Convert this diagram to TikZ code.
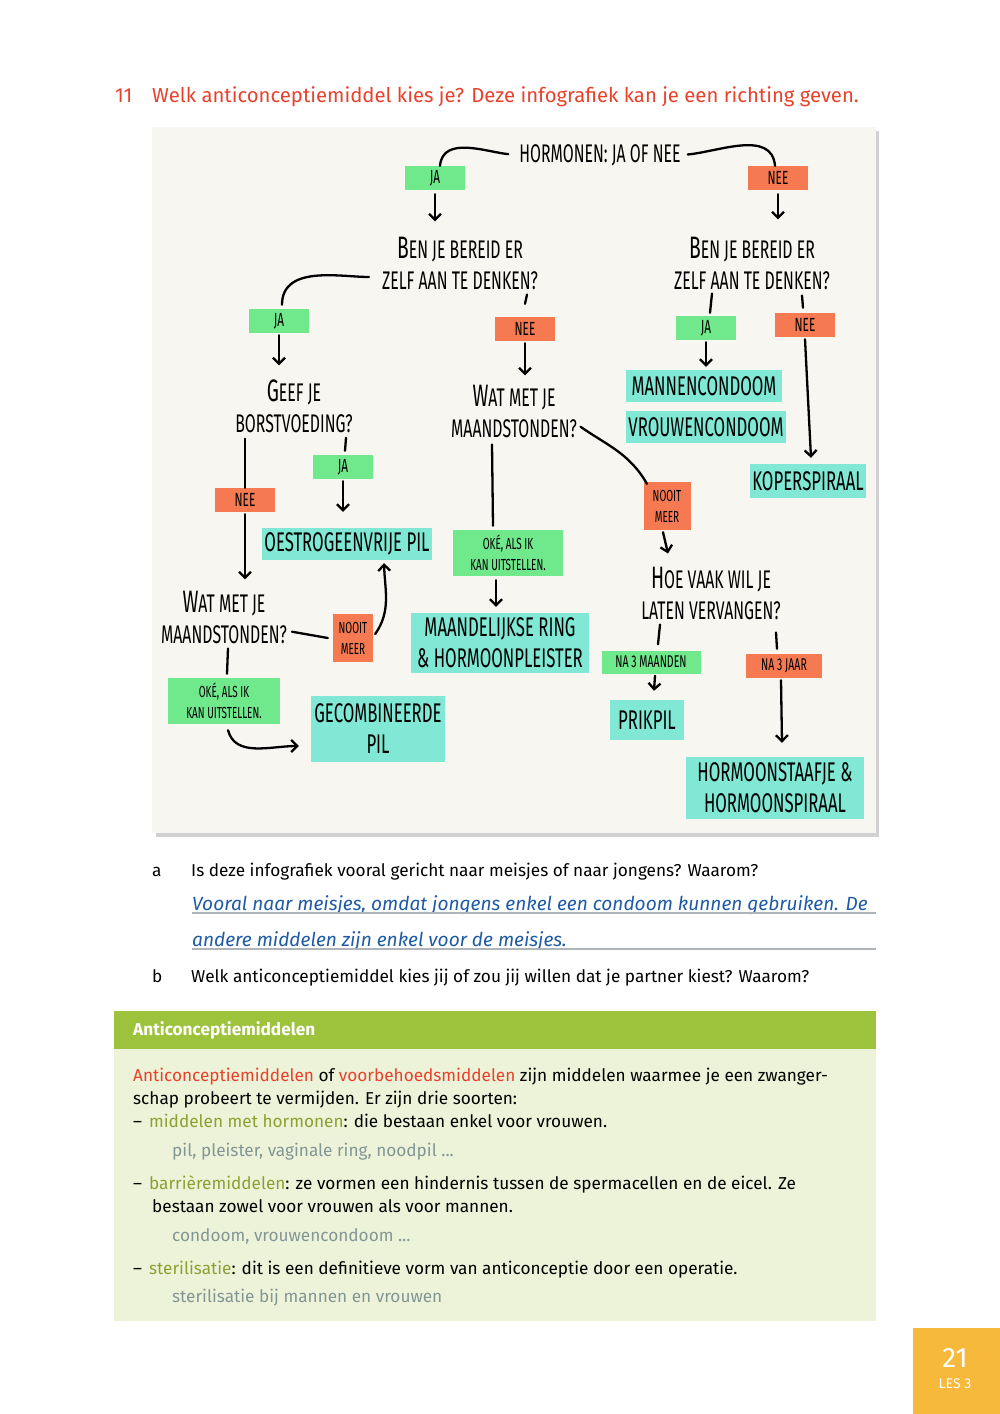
\documentclass[tikz,border=0pt]{standalone}
\usepackage{fontspec}
\setmainfont{Fira Sans}
\newfontfamily\handfont[FakeStretch=0.62]{Fira Sans}
\usetikzlibrary{arrows.meta, positioning}

\definecolor{titlered}{RGB}{232,65,44}
\definecolor{paper}{RGB}{248,246,240}
\definecolor{brushteal}{RGB}{128,232,212}
\definecolor{brushgreen}{RGB}{112,232,140}
\definecolor{brushorange}{RGB}{245,122,82}
\definecolor{answerblue}{RGB}{30,90,165}
\definecolor{rulegrey}{RGB}{175,180,185}
\definecolor{boxgreen}{RGB}{157,194,59}
\definecolor{boxpale}{RGB}{237,243,216}
\definecolor{termolive}{RGB}{140,160,50}
\definecolor{examplegrey}{RGB}{130,150,150}
\definecolor{pagegold}{RGB}{246,185,59}

\newcommand\initcap[1]{{\fontsize{31}{31}\selectfont #1}}

\begin{document}
\begin{tikzpicture}[x=1pt, y=-1pt,
    question/.style={font=\handfont\fontsize{25.5}{31}\selectfont, align=center, inner sep=1pt},
    answer/.style={fill=brushteal, font=\handfont\fontsize{27}{31}\selectfont, align=center, inner sep=2pt},
    yestag/.style={fill=brushgreen, font=\handfont\fontsize{19}{22}\selectfont, align=center, minimum width=60pt, minimum height=24pt, inner sep=1pt},
    notag/.style={fill=brushorange, font=\handfont\fontsize{19}{22}\selectfont, align=center, minimum width=60pt, minimum height=24pt, inner sep=1pt},
    link/.style={line width=2.3pt, line cap=round},
    pointer/.style={link, -{Straight Barb[length=6pt,width=12pt]}},
    body/.style={anchor=base west, inner sep=0pt, font=\fontsize{17.2}{20}\selectfont}]

\useasboundingbox (0,0) rectangle (1000,1414);

% title
\node[body, font=\fontsize{20.3}{24}\selectfont, text=titlered] (num) at (115,102) {11};
\node[body, font=\fontsize{20.3}{24}\selectfont, text=titlered] (title) at (152,102)
    {Welk anticonceptiemiddel kies je? Deze infografiek kan je een richting geven.};

% panel
\fill[black!18] (156,131) rectangle (879,837);
\fill[paper] (152,127) rectangle (876,833);

% flowchart nodes
\node[question] (hq) at (600,155) {HORMONEN: JA OF NEE};
\node[yestag] (ja1) at (435,178) {JA};
\node[notag] (nee1) at (778,178) {NEE};

\node[question] (qL) at (460,263) {\initcap{B}EN JE BEREID ER\\ZELF AAN TE DENKEN?};
\node[question] (qR) at (752,263) {\initcap{B}EN JE BEREID ER\\ZELF AAN TE DENKEN?};

\node[yestag] (jaL) at (279,321) {JA};
\node[notag] (neeL) at (525,329) {NEE};
\node[yestag] (jaR) at (706,328) {JA};
\node[notag] (neeR) at (805,325) {NEE};

\node[question] (qBorst) at (294,406) {\initcap{G}EEF JE\\BORSTVOEDING?};
\node[question] (qMaandM) at (514,411) {\initcap{W}AT MET JE\\MAANDSTONDEN?};

\node[answer, minimum width=156pt, minimum height=32pt] (mannen) at (704,386) {MANNENCONDOOM};
\node[answer, minimum width=158pt, minimum height=32pt] (vrouwen) at (706,427) {VROUWENCONDOOM};
\node[answer, minimum width=114pt, minimum height=34pt] (koper) at (808,481) {KOPERSPIRAAL};

\node[notag] (neeB) at (245,500) {NEE};
\node[yestag] (jaB) at (343,467) {JA};
\node[answer, minimum width=160pt, minimum height=32pt] (oestro) at (347,544) {OESTROGEENVRIJE PIL};

\node[yestag, font=\handfont\fontsize{16}{21}\selectfont, minimum width=110pt, minimum height=46pt] (okeM) at (508,553) {OKÉ, ALS IK\\KAN UITSTELLEN.};
\node[answer, minimum width=178pt, minimum height=60pt] (ring) at (500,643) {MAANDELIJKSE RING\\\& HORMOONPLEISTER};

\node[notag, font=\handfont\fontsize{16}{21}\selectfont, minimum width=47pt, minimum height=48pt] (nooitM) at (667,506) {NOOIT\\MEER};
\node[question] (qVaak) at (711,593) {\initcap{H}OE VAAK WIL JE\\LATEN VERVANGEN?};

\node[yestag, font=\handfont\fontsize{17}{21}\selectfont, minimum width=99pt, minimum height=23pt] (na3m) at (651,662) {NA 3 MAANDEN};
\node[notag, font=\handfont\fontsize{17}{21}\selectfont, minimum width=76pt, minimum height=24pt] (na3j) at (784,666) {NA 3 JAAR};
\node[answer, minimum width=74pt, minimum height=40pt] (prik) at (647,720) {PRIKPIL};
\node[answer, minimum width=178pt, minimum height=62pt] (staaf) at (775,788) {HORMOONSTAAFJE \&\\HORMOONSPIRAAL};

\node[question] (qMaandL) at (224,617) {\initcap{W}AT MET JE\\MAANDSTONDEN?};
\node[notag, font=\handfont\fontsize{16}{21}\selectfont, minimum width=40pt, minimum height=48pt] (nooitL) at (353,638) {NOOIT\\MEER};
\node[yestag, font=\handfont\fontsize{16}{21}\selectfont, minimum width=112pt, minimum height=46pt] (okeL) at (224,701) {OKÉ, ALS IK\\KAN UITSTELLEN.};
\node[answer, minimum width=134pt, minimum height=66pt] (gecomb) at (378,729) {GECOMBINEERDE\\PIL};

% connectors
\draw[link, shorten <=10pt] (hq.west) to[out=175, in=85] ([xshift=5pt]ja1.north);
\draw[link, shorten <=6pt] (hq.east) to[out=5, in=95] ([xshift=-3pt]nee1.north);
\draw[pointer] ([yshift=-4pt]ja1.south) -- ([yshift=14pt]qL.north -| ja1.south);
\draw[pointer] ([yshift=-4pt]nee1.south) -- ([yshift=16pt]qR.north -| nee1.south);

\draw[link, shorten <=12pt] ([yshift=-14pt]qL.west) to[out=180, in=90] ([xshift=3pt, yshift=4pt]jaL.north);
\draw[pointer] ([yshift=-2pt]jaL.south) -- ([yshift=13pt]qBorst.north -| jaL.south);
\draw[link] ([xshift=67pt, yshift=-4pt]qL.south) -- ([xshift=0pt, yshift=13pt]neeL.north);
\draw[pointer] ([yshift=-2pt]neeL.south) -- ([yshift=8pt]qMaandM.north -| neeL.south);

\draw[link] ([xshift=-40pt, yshift=-3pt]qR.south) -- ([xshift=4pt, yshift=3pt]jaR.north);
\draw[pointer] ([yshift=-2pt]jaR.south) -- ([yshift=3pt]mannen.north -| jaR.south);
\draw[link] ([xshift=50pt, yshift=-5pt]qR.south) -- ([xshift=-2pt, yshift=5pt]neeR.north);
\draw[pointer] ([yshift=-2pt]neeR.south) -- ([xshift=3pt, yshift=6pt]koper.north);

\draw[link] ([xshift=-49pt, yshift=-5pt]qBorst.south) -- (neeB.north);
\draw[pointer] ([yshift=-2pt]neeB.south) -- ([yshift=10pt]qMaandL.north -| neeB.south);
\draw[link] ([xshift=52pt, yshift=-4pt]qBorst.south) -- ([xshift=2pt, yshift=4pt]jaB.north);
\draw[pointer] ([yshift=-2pt]jaB.south) -- ([yshift=16pt]oestro.north -| jaB.south);

\draw[link] ([xshift=-22pt, yshift=-6pt]qMaandM.south) -- ([xshift=-15pt, yshift=4pt]okeM.north);
\draw[pointer] ([xshift=-12pt, yshift=-4pt]okeM.south) -- ([xshift=-4pt, yshift=6pt]ring.north);
\draw[link, shorten <=3pt] ([yshift=-14pt]qMaandM.east) to[out=-35, in=120] ([xshift=-20pt, yshift=-2pt]nooitM.north);
\draw[pointer] ([xshift=-4pt, yshift=-2pt]nooitM.south) -- ([xshift=-43pt, yshift=12pt]qVaak.north);

\draw[link] ([xshift=-51pt, yshift=-4pt]qVaak.south) -- ([xshift=7pt, yshift=6pt]na3m.north);
\draw[pointer] ([xshift=4pt, yshift=-2pt]na3m.south) -- ([xshift=7pt, yshift=9pt]prik.north);
\draw[link] ([xshift=65pt, yshift=-12pt]qVaak.south) -- ([xshift=-7pt, yshift=5pt]na3j.north);
\draw[pointer] ([xshift=-3pt, yshift=-2pt]na3j.south) -- ([xshift=7pt, yshift=14pt]staaf.north);

\draw[link, shorten <=4pt] ([yshift=-14pt]qMaandL.east) -- ([xshift=-5pt]nooitL.west);
\draw[pointer] ([xshift=2pt, yshift=4pt]nooitL.east) to[out=55, in=-88] ([xshift=37pt, yshift=-3pt]oestro.south);
\draw[link] ([xshift=4pt, yshift=-4pt]qMaandL.south) -- ([xshift=3pt, yshift=4pt]okeL.north);
\draw[pointer] ([xshift=4pt, yshift=-6pt]okeL.south) to[out=-75, in=180] ([xshift=-12pt, yshift=-17pt]gecomb.west);

% questions below the panel
\node[body] (la) at (152,876) {a};
\node[body] (qa) at (191,876) {Is deze infografiek vooral gericht naar meisjes of naar jongens? Waarom?};
\node[body, font=\fontsize{19.1}{24}\selectfont\itshape, text=answerblue] (ans1) at (192,910)
    {Vooral naar meisjes, omdat jongens enkel een condoom kunnen gebruiken. De};
\node[body, font=\fontsize{19.1}{24}\selectfont\itshape, text=answerblue] (ans2) at (192,946)
    {andere middelen zijn enkel voor de meisjes.};
\draw[rulegrey, line width=1.2pt] (192,913) -- (876,913);
\draw[rulegrey, line width=1.2pt] (192,949) -- (876,949);
\node[body] (lb) at (152,982) {b};
\node[body] (qb) at (191,982) {Welk anticonceptiemiddel kies jij of zou jij willen dat je partner kiest? Waarom?};

% info box
\fill[boxgreen] (114,1011) rectangle (876,1049);
\fill[boxpale] (114,1049) rectangle (876,1321);
\node[body, font=\fontsize{17.2}{20}\selectfont\bfseries, text=white] (boxhead) at (133,1035) {Anticonceptiemiddelen};
\node[body] (p1) at (133,1081) {\textcolor{titlered}{Anticonceptiemiddelen} of \textcolor{titlered}{voorbehoedsmiddelen} zijn middelen waarmee je een zwanger-};
\node[body] (p2) at (133,1104) {schap probeert te vermijden. Er zijn drie soorten:};
\node[body] (p3) at (133,1127) {–\hspace{7pt}\textcolor{termolive}{middelen met hormonen}: die bestaan enkel voor vrouwen.};
\node[body, text=examplegrey] (p4) at (172,1156) {pil, pleister, vaginale ring, noodpil ...};
\node[body] (p5) at (133,1189) {–\hspace{7pt}\textcolor{termolive}{barrièremiddelen}: ze vormen een hindernis tussen de spermacellen en de eicel. Ze};
\node[body] (p6) at (152,1212) {bestaan zowel voor vrouwen als voor mannen.};
\node[body, text=examplegrey] (p7) at (172,1241) {condoom, vrouwencondoom ...};
\node[body] (p8) at (133,1274) {–\hspace{7pt}\textcolor{termolive}{sterilisatie}: dit is een definitieve vorm van anticonceptie door een operatie.};
\node[body, text=examplegrey] (p9) at (172,1302) {sterilisatie bij mannen en vrouwen};

% page corner
\fill[pagegold] (913,1328) rectangle (1000,1414);
\node[font=\fontsize{28}{30}\selectfont, text=white, inner sep=0pt] (pnum) at (955,1358) {21};
\node[font=\fontsize{14}{16}\selectfont, text=white, inner sep=0pt] (les) at (955,1384) {LES 3};
\end{tikzpicture}
\end{document}
